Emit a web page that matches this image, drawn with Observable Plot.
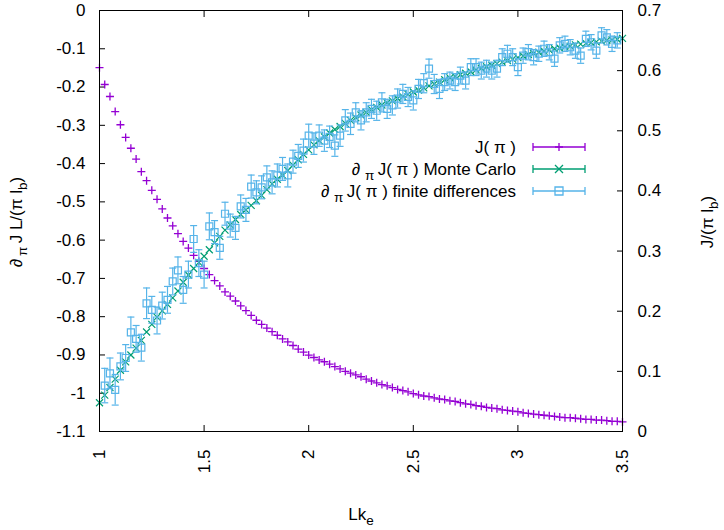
<!DOCTYPE html>
<html><head><meta charset="utf-8">
<script src="https://cdn.jsdelivr.net/npm/d3@7"></script>
<script src="https://cdn.jsdelivr.net/npm/@observablehq/plot@0.6"></script>
<style>body{margin:0;background:#fff}</style>
</head><body><div id="chart"></div>
<script>
// Lk_e grid
const lk = [1,1.025,1.05,1.075,1.1,1.125,1.15,1.175,1.2,1.225,
  1.25,1.275,1.3,1.325,1.35,1.375,1.4,1.425,1.45,1.475,
  1.5,1.525,1.55,1.575,1.6,1.625,1.65,1.675,1.7,1.725,
  1.75,1.775,1.8,1.825,1.85,1.875,1.9,1.925,1.95,1.975,
  2,2.025,2.05,2.075,2.1,2.125,2.15,2.175,2.2,2.225,
  2.25,2.275,2.3,2.325,2.35,2.375,2.4,2.425,2.45,2.475,
  2.5,2.525,2.55,2.575,2.6,2.625,2.65,2.675,2.7,2.725,
  2.75,2.775,2.8,2.825,2.85,2.875,2.9,2.925,2.95,2.975,
  3,3.025,3.05,3.075,3.1,3.125,3.15,3.175,3.2,3.225,
  3.25,3.275,3.3,3.325,3.35,3.375,3.4,3.425,3.45,3.475,3.5];
// J(pi) (right axis)
const jVals = [0.605,0.577,0.557,0.532,0.510,0.489,0.471,0.453,0.432,0.417,
  0.401,0.386,0.370,0.355,0.342,0.329,0.316,0.305,0.293,0.283,
  0.271,0.261,0.251,0.242,0.232,0.225,0.217,0.209,0.201,0.193,
  0.185,0.178,0.172,0.166,0.160,0.154,0.149,0.143,0.137,0.132,
  0.127,0.123,0.119,0.116,0.112,0.108,0.104,0.100,0.097,0.094,
  0.091,0.087,0.084,0.081,0.078,0.076,0.073,0.070,0.068,0.066,
  0.063,0.061,0.059,0.058,0.056,0.054,0.053,0.051,0.050,0.048,
  0.046,0.045,0.043,0.042,0.040,0.039,0.038,0.036,0.035,0.034,
  0.033,0.031,0.030,0.029,0.028,0.027,0.026,0.025,0.024,0.023,
  0.023,0.022,0.021,0.020,0.020,0.019,0.019,0.018,0.017,0.017,0.016];
// d_pi J(pi) Monte Carlo (left axis)
const mcVals = [-1.025,-1.005,-0.985,-0.963,-0.940,-0.918,-0.900,-0.882,-0.862,-0.840,
  -0.820,-0.801,-0.785,-0.768,-0.751,-0.733,-0.710,-0.691,-0.674,-0.658,
  -0.642,-0.625,-0.607,-0.590,-0.574,-0.560,-0.546,-0.533,-0.521,-0.509,
  -0.497,-0.483,-0.468,-0.453,-0.441,-0.430,-0.418,-0.404,-0.390,-0.376,
  -0.364,-0.351,-0.340,-0.330,-0.320,-0.311,-0.303,-0.295,-0.287,-0.280,
  -0.273,-0.266,-0.259,-0.253,-0.247,-0.241,-0.236,-0.230,-0.225,-0.219,
  -0.213,-0.208,-0.202,-0.197,-0.192,-0.187,-0.181,-0.176,-0.172,-0.168,
  -0.164,-0.160,-0.155,-0.151,-0.147,-0.143,-0.139,-0.135,-0.131,-0.127,
  -0.123,-0.119,-0.115,-0.112,-0.109,-0.106,-0.103,-0.100,-0.098,-0.095,
  -0.093,-0.090,-0.088,-0.086,-0.084,-0.082,-0.080,-0.078,-0.077,-0.075,-0.073];
// finite differences
const lkFD = [1.025,1.05,1.075,1.1,1.125,1.15,1.175,1.2,1.225,1.25,
  1.275,1.3,1.325,1.35,1.375,1.4,1.425,1.45,1.475,1.5,
  1.525,1.55,1.575,1.6,1.625,1.65,1.675,1.7,1.725,1.75,
  1.775,1.8,1.825,1.85,1.875,1.9,1.925,1.95,1.975,2,
  2.025,2.05,2.075,2.1,2.125,2.15,2.175,2.2,2.225,2.25,
  2.275,2.3,2.325,2.35,2.375,2.4,2.425,2.45,2.475,2.5,
  2.525,2.55,2.575,2.6,2.625,2.65,2.675,2.7,2.725,2.75,
  2.775,2.8,2.825,2.85,2.875,2.9,2.925,2.95,2.975,3,
  3.025,3.05,3.075,3.1,3.125,3.15,3.175,3.2,3.225,3.25,
  3.275,3.3,3.325,3.35,3.375,3.4,3.425,3.45,3.475];
const fdVals = [-0.980,-0.948,-0.991,-0.930,-0.908,-0.841,-0.858,-0.881,-0.765,-0.782,
  -0.810,-0.771,-0.756,-0.708,-0.679,-0.730,-0.690,-0.597,-0.660,-0.690,
  -0.564,-0.579,-0.620,-0.531,-0.562,-0.568,-0.512,-0.521,-0.460,-0.475,
  -0.462,-0.436,-0.449,-0.431,-0.414,-0.431,-0.395,-0.380,-0.366,-0.327,
  -0.348,-0.327,-0.340,-0.330,-0.353,-0.327,-0.287,-0.296,-0.266,-0.287,
  -0.266,-0.257,-0.262,-0.240,-0.257,-0.248,-0.230,-0.218,-0.226,-0.235,
  -0.205,-0.190,-0.152,-0.192,-0.205,-0.187,-0.183,-0.187,-0.170,-0.183,
  -0.148,-0.148,-0.157,-0.152,-0.157,-0.152,-0.122,-0.113,-0.122,-0.148,
  -0.118,-0.109,-0.122,-0.113,-0.100,-0.109,-0.126,-0.091,-0.087,-0.096,
  -0.105,-0.118,-0.074,-0.083,-0.105,-0.065,-0.070,-0.087,-0.078];
const fdErr = [0.045,0.040,0.040,0.035,0.035,0.040,0.035,0.035,0.040,0.035,
  0.035,0.035,0.035,0.035,0.035,0.035,0.035,0.035,0.035,0.035,
  0.035,0.030,0.030,0.030,0.030,0.030,0.030,0.030,0.030,0.030,
  0.030,0.030,0.030,0.030,0.030,0.030,0.030,0.030,0.030,0.030,
  0.028,0.028,0.028,0.028,0.028,0.028,0.028,0.028,0.025,0.025,
  0.025,0.025,0.025,0.025,0.025,0.025,0.025,0.025,0.025,0.025,
  0.025,0.025,0.025,0.025,0.025,0.022,0.022,0.022,0.022,0.022,
  0.022,0.022,0.022,0.022,0.022,0.022,0.022,0.022,0.022,0.022,
  0.020,0.020,0.020,0.020,0.020,0.020,0.020,0.020,0.020,0.020,
  0.020,0.020,0.020,0.020,0.020,0.020,0.020,0.020,0.020];

const leftTicks = [0,-0.1,-0.2,-0.3,-0.4,-0.5,-0.6,-0.7,-0.8,-0.9,-1,-1.1];
const rightTicks = [0,0.1,0.2,0.3,0.4,0.5,0.6,0.7];
const xTicks = [1,1.5,2,2.5,3,3.5];
const colors = ["#9400d3", "#009e73", "#56b4e9"];

const Y_MIN = -1.1, Y_MAX = 0, J_MAX = 0.7;
const toLeft = v => Y_MIN + v / J_MAX * (Y_MAX - Y_MIN);
const fromLeft = y => (y - Y_MIN) / (Y_MAX - Y_MIN) * J_MAX;
const fmt = d => String(Math.round(d * 10) / 10);

const jData = lk.map((x, i) => ({x, y: toLeft(jVals[i])}));
const mcData = lk.map((x, i) => ({x, y: mcVals[i]}));
const fdData = lkFD.map((x, i) => ({x, y: fdVals[i], lo: fdVals[i] - fdErr[i], hi: fdVals[i] + fdErr[i]}));

const sym = fn => ({draw(ctx, size) { const r = Math.sqrt(size / Math.PI); fn(ctx, r); }});
const plusSym = sym((c, r) => { c.moveTo(-r, 0); c.lineTo(r, 0); c.moveTo(0, -r); c.lineTo(0, r); });
const timesSym = sym((c, r) => { c.moveTo(-r, -r); c.lineTo(r, r); c.moveTo(-r, r); c.lineTo(r, -r); });
const squareSym = sym((c, r) => { c.moveTo(-r, -r); c.lineTo(r, -r); c.lineTo(r, r); c.lineTo(-r, r); c.closePath(); });
const capSym = sym((c, r) => { c.moveTo(-r, 0); c.lineTo(r, 0); });

const chart = Plot.plot({
  width: 724, height: 530,
  marginLeft: 99, marginRight: 102, marginTop: 10, marginBottom: 99,
  style: {fontFamily: "'Liberation Sans', Arial, sans-serif", fontSize: "17px", color: "#000", background: "#fff", overflow: "visible"},
  x: {domain: [1, 3.5]},
  y: {domain: [Y_MIN, Y_MAX]},
  marks: [
    Plot.axisY(leftTicks, {anchor: "left", tickSize: -6, tickPadding: 20, tickFormat: fmt, label: null}),
    Plot.axisY(rightTicks.map(toLeft), {anchor: "right", tickSize: -6, tickPadding: 21, tickFormat: d => fmt(fromLeft(d)), label: null}),
    Plot.axisX(xTicks, {anchor: "bottom", tickSize: -6, tickPadding: 24, tickRotate: -90, tickFormat: fmt, label: null}),
    Plot.axisX(xTicks, {anchor: "top", tickSize: -6, fill: "none", label: null}),
    Plot.dot(jData, {x: "x", y: "y", symbol: plusSym, r: 4, stroke: colors[0], fill: "none", strokeWidth: 1.3}),
    Plot.dot(mcData, {x: "x", y: "y", symbol: timesSym, r: 3.5, stroke: colors[1], fill: "none", strokeWidth: 1.2}),
    Plot.ruleX(fdData, {x: "x", y1: "lo", y2: "hi", stroke: colors[2], strokeWidth: 1.2}),
    Plot.dot(fdData, {x: "x", y: "lo", symbol: capSym, r: 3.5, stroke: colors[2], fill: "none", strokeWidth: 1.2}),
    Plot.dot(fdData, {x: "x", y: "hi", symbol: capSym, r: 3.5, stroke: colors[2], fill: "none", strokeWidth: 1.2}),
    Plot.dot(fdData, {x: "x", y: "y", symbol: squareSym, r: 3.5, stroke: colors[2], fill: "none", strokeWidth: 1.2}),
    Plot.frame({stroke: "#000", strokeWidth: 1})
  ]
});
document.getElementById("chart").appendChild(chart);

const svg = d3.select(chart);
const FONT = "'Liberation Sans', Arial, sans-serif";
function rich(g, parts, attrs) {
  const t = g.append("text").attr("font-family", FONT).attr("font-size", 17).attr("fill", "#000");
  for (const k in attrs) t.attr(k, attrs[k]);
  let shift = 0;
  parts.forEach(([s, sub]) => {
    const target = sub ? 5 : 0;
    const ts = t.append("tspan").attr("dy", target - shift).text(s);
    if (sub) ts.attr("font-size", 13.5);
    shift = target;
  });
  return t;
}
// axis titles
rich(svg, [["Lk"], ["e", true]], {x: 361, y: 520, "text-anchor": "middle"});
rich(svg, [["∂"], ["\u2009π", true], ["\u2009J L/(π l"], ["b", true], [")"]], {transform: "translate(22,222) rotate(-90)", "text-anchor": "middle"});
rich(svg, [["J/(π l"], ["b", true], [")"]], {transform: "translate(713,222) rotate(-90)", "text-anchor": "middle"});

// legend
const legendRows = [
  {parts: [["J( π )"]], color: colors[0], shape: plusSym, y: 147},
  {parts: [["∂ "], ["π", true], ["\u2009J( π ) Monte Carlo"]], color: colors[1], shape: timesSym, y: 169},
  {parts: [["∂ "], ["π", true], ["\u2009J( π ) finite differences"]], color: colors[2], shape: squareSym, y: 191}
];
const lg = svg.append("g");
legendRows.forEach(r => {
  rich(lg, r.parts, {x: 516, y: r.y + 6});
  lg.selectAll("text").attr("text-anchor", "end");
  const p = d3.path();
  p.moveTo(533, r.y); p.lineTo(585, r.y);
  p.moveTo(533, r.y - 4); p.lineTo(533, r.y + 4);
  p.moveTo(585, r.y - 4); p.lineTo(585, r.y + 4);
  lg.append("path").attr("d", p.toString()).attr("stroke", r.color).attr("stroke-width", 1.3).attr("fill", "none");
  lg.append("path").attr("d", d3.symbol(r.shape, Math.PI * 16)()).attr("transform", `translate(559,${r.y})`)
    .attr("stroke", r.color).attr("stroke-width", 1.3).attr("fill", "none");
});
</script>
</body></html>
